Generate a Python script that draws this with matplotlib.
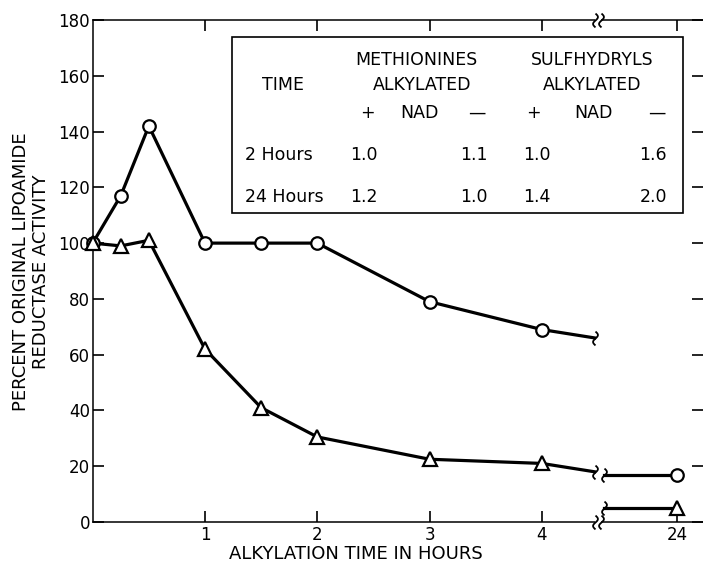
import numpy as np
import matplotlib
matplotlib.use("Agg")
import matplotlib.pyplot as plt
from matplotlib.path import Path
from matplotlib.patches import Rectangle
from matplotlib.transforms import blended_transform_factory

# ---------------- data ----------------
circ_x = [0, 0.25, 0.5, 1, 1.5, 2, 3, 4]
circ_y = [100, 117, 142, 100, 100, 100, 79, 69]
tri_x = [0, 0.25, 0.5, 1, 1.5, 2, 3, 4]
tri_y = [100, 99, 101, 62, 41, 30.5, 22.5, 21]

break_left_x = 4.47      # where the early curves are cut
circ_break_y = 66
tri_break_y = 18
late_start_x = 6.0       # where the 24 h segments start after the break
late_x = 24
circ_late_y = 17
tri_late_y = 5

xticks = [1, 2, 3, 4, 24]
xticklabels = ["1", "2", "3", "4", "24"]
yticks = list(range(0, 181, 20))

table_times = ["2 Hours", "24 Hours"]
meth_plus = ["1.0", "1.2"]
meth_minus = ["1.1", "1.0"]
sulf_plus = ["1.0", "1.4"]
sulf_minus = ["1.6", "2.0"]

# ---------------- broken x scale ----------------
BREAK = 4.5
K = 0.03605
spine_gap = (4.47, 5.2)


def fwd(x):
    x = np.asarray(x, float)
    return np.where(x <= BREAK, x, BREAK + (x - BREAK) * K)


def inv(x):
    x = np.asarray(x, float)
    return np.where(x <= BREAK, x, BREAK + (x - BREAK) / K)


W, H = 703, 568
plt.rcParams['font.family'] = ['DejaVu Sans']
fig = plt.figure(figsize=(W / 100, H / 100), dpi=100)
ax = fig.add_axes([92.7 / W, 1 - 522 / H, 1 - 92.7 / W, (522 - 20) / H])
ax.set_xscale('function', functions=(fwd, inv))
ax.set_xlim(0, float(inv(5.435)))
ax.set_ylim(0, 180)

for s in ['left', 'bottom', 'top']:
    ax.spines[s].set_linewidth(1.1)
ax.spines['right'].set_visible(False)

ax.set_xticks(xticks)
ax.set_xticklabels(xticklabels)
ax.xaxis.set_minor_locator(matplotlib.ticker.NullLocator())
ax.set_yticks(yticks)
ax.tick_params(axis='x', which='both', bottom=True, top=True, direction='in',
               length=8, width=1.2, labelsize=12, pad=3)
ax.tick_params(axis='y', which='both', left=True, right=True, direction='in',
               length=8, width=1.2, labelsize=12, pad=2)

lw = 2.3
ms = 9
# early curves
ax.plot(circ_x + [break_left_x], circ_y + [circ_break_y], color='black', lw=lw,
        zorder=2, solid_joinstyle='miter')
ax.plot(tri_x + [break_left_x], tri_y + [tri_break_y], color='black', lw=lw,
        zorder=2, solid_joinstyle='miter')
ax.plot(circ_x, circ_y, linestyle='none', marker='o', ms=ms, mfc='white',
        mec='black', mew=1.6, zorder=3, clip_on=False)
ax.plot(tri_x, tri_y, linestyle='none', marker='^', ms=ms + 1, mfc='white',
        mec='black', mew=1.6, zorder=3, clip_on=False)

# late (24 h) segments
ax.plot([late_start_x, late_x], [circ_late_y, circ_late_y], color='black', lw=lw, zorder=2)
ax.plot([late_start_x, late_x], [tri_late_y, tri_late_y], color='black', lw=lw, zorder=2)
ax.plot([late_x], [circ_late_y], linestyle='none', marker='o', ms=ms, mfc='white',
        mec='black', mew=1.6, zorder=3)
ax.plot([late_x], [tri_late_y], linestyle='none', marker='^', ms=ms + 1, mfc='white',
        mec='black', mew=1.6, zorder=3)

# break wiggle marker
t = np.linspace(-1, 1, 30)
wiggle = Path(np.column_stack([0.35 * np.sin(np.pi * t), t]))
wkw = dict(linestyle='none', marker=wiggle, ms=10, mfc='none', mec='black',
           mew=1.3, zorder=4, clip_on=False)
ax.plot([break_left_x, break_left_x], [circ_break_y, tri_break_y], **wkw)
ax.plot([late_start_x, late_start_x], [circ_late_y, tri_late_y], **wkw)

# spine breaks
bt = blended_transform_factory(ax.transData, ax.transAxes)
for yy in (0, 1):
    ax.plot(list(spine_gap), [yy, yy], color='white', lw=3, transform=bt,
            clip_on=False, zorder=5, solid_capstyle='butt')
    ax.plot(list(spine_gap), [yy, yy], transform=bt, **dict(wkw, zorder=6))


def px(x, y):
    return (x / W, 1 - y / H)


# axis labels
fig.text(*px(356, 554), "ALKYLATION TIME IN HOURS", fontsize=13,
         ha='center', va='center')
fig.text(*px(31, 272), "PERCENT ORIGINAL LIPOAMIDE\nREDUCTASE ACTIVITY",
         fontsize=13, rotation=90, ha='center', va='center',
         multialignment='center', linespacing=1.2)

# inset table
box = Rectangle(px(232, 213), (683 - 232) / W, (213 - 37) / H,
                transform=fig.transFigure, fill=False, lw=1.2, ec='black')
fig.add_artist(box)
tfs = 12.5


def T(x, y, s, ha='center'):
    fig.text(*px(x, y), s, fontsize=tfs, ha=ha, va='center')


T(416, 60, "METHIONINES")
T(592, 60, "SULFHYDRYLS")
T(283, 85, "TIME")
T(422, 85, "ALKYLATED")
T(592, 85, "ALKYLATED")
T(367, 113, "+")
T(419, 113, "NAD")
T(477, 113, "\u2014")
T(533, 113, "+")
T(593, 113, "NAD")
T(657, 113, "\u2014")
row_y = [155, 197]
for i, yy in enumerate(row_y):
    T(245, yy, table_times[i], ha='left')
    T(350, yy, meth_plus[i], ha='left')
    T(488, yy, meth_minus[i], ha='right')
    T(523, yy, sulf_plus[i], ha='left')
    T(667, yy, sulf_minus[i], ha='right')

fig.savefig("out.png", dpi=100)
